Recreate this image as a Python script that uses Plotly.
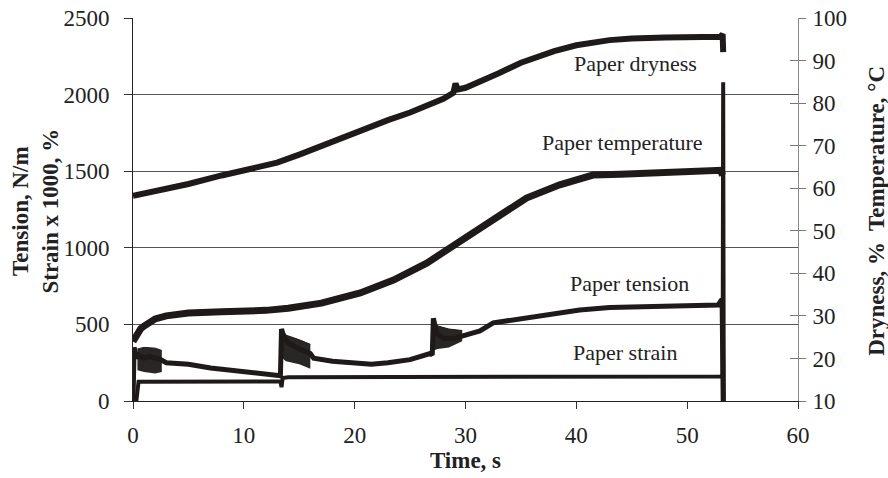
import plotly.graph_objects as go

# ---------------- data ----------------
# Paper dryness, % (right axis)
dry_t = [0, 2, 5, 8, 10, 13, 15, 18, 20, 23, 25, 28, 28.9, 29.1, 29.3, 30, 33, 35, 38, 40, 43, 45, 48, 50, 53, 53.2, 53.25]
dry_v = [58.2, 59.3, 61.0, 63.0, 64.2, 66.0, 67.9, 71.0, 73.2, 76.0, 77.8, 81.0, 82.4, 84.6, 83.2, 83.6, 87.0, 89.5, 92.2, 93.6, 94.8, 95.2, 95.4, 95.5, 95.6, 96.2, 92.0]

# Paper temperature, degC (right axis)
temp_t = [0, 0.3, 0.7, 1, 1.5, 2, 3, 5, 8, 10, 12, 14, 17, 20.5, 23.5, 26.5, 29.2, 32.5, 35.5, 38.5, 41.5, 44, 47, 50, 53, 53.2]
temp_v = [24.0, 25.5, 27.0, 27.6, 28.6, 29.3, 30.0, 30.7, 31.0, 31.0, 31.3, 31.8, 33.0, 35.4, 38.4, 42.4, 47.1, 52.5, 57.7, 60.8, 63.1, 63.3, 63.6, 63.8, 64.2, 63.0]

# Paper tension, N/m (left axis)
ten_t = [0, 0.1, 0.3, 0.5, 1, 1.5, 2, 2.5, 3, 5, 7, 9, 11, 13.3, 13.4, 13.6, 14, 15, 16, 16.3, 18, 20, 21.5, 23, 25, 26.8, 27.0, 27.1, 27.4, 28, 29, 30, 31.3, 32.5, 35.8, 38.5, 40.3, 43, 45, 49.4, 52.8, 53.15, 53.25]
ten_v = [0, 350, 280, 300, 280, 290, 280, 270, 250, 240, 215, 200, 180, 165, 470, 420, 380, 340, 310, 280, 260, 245, 240, 250, 270, 310, 300, 540, 440, 410, 410, 430, 457, 510, 548, 580, 594, 610, 614, 620, 627, 665, 0]

# noisy envelopes of the tension signal (left axis)
band1_t = [0.4, 1, 2, 2.6]
band1_hi = [340, 350, 345, 330]
band1_lo = [200, 190, 180, 190]
band2_t = [13.45, 13.8, 15, 16]
band2_hi = [470, 430, 400, 370]
band2_lo = [280, 260, 240, 210]
band3_t = [27.1, 27.5, 28.5, 29.7]
band3_hi = [530, 490, 470, 460]
band3_lo = [330, 340, 350, 390]

# Paper strain x 1000, % (left axis)
str_t = [0, 0.3, 0.5, 5, 10, 13.3, 13.4, 13.5, 14, 20, 27, 28, 40, 53, 53.2, 53.25, 53.3]
str_v = [0, 0, 125, 127, 128, 128, 90, 150, 155, 155, 155, 160, 160, 160, 165, 2080, 0]

x_ticks = [0, 10, 20, 30, 40, 50, 60]
left_ticks = [0, 500, 1000, 1500, 2000, 2500]
right_ticks = [10, 20, 30, 40, 50, 60, 70, 80, 90, 100]

labels = ["Paper dryness", "Paper temperature", "Paper tension", "Paper strain"]
label_x = [45.3, 44.2, 44.8, 44.4]
label_y = [2200, 1690, 770, 315]

left_title = "<b>Tension, N/m<br>Strain x 1000, %</b>"
right_title = "<b>Dryness, %  Temperature, °C</b>"

# ---------------- figure ----------------
SERIF = "Liberation Serif, Times New Roman, serif"
INK = "#1e1a1a"

fig = go.Figure()

def band(t, lo, hi):
    fig.add_trace(go.Scatter(x=t, y=lo, mode="lines", line=dict(width=0, color=INK),
                             showlegend=False, hoverinfo="skip", yaxis="y"))
    fig.add_trace(go.Scatter(x=t, y=hi, mode="lines", line=dict(width=1, color=INK),
                             fill="tonexty", fillcolor="rgba(30,26,26,0.95)",
                             showlegend=False, hoverinfo="skip", yaxis="y"))

band(band1_t, band1_lo, band1_hi)
band(band2_t, band2_lo, band2_hi)
band(band3_t, band3_lo, band3_hi)

fig.add_trace(go.Scatter(x=ten_t, y=ten_v, mode="lines", name="Paper tension",
                         line=dict(color=INK, width=5), yaxis="y"))
fig.add_trace(go.Scatter(x=str_t, y=str_v, mode="lines", name="Paper strain",
                         line=dict(color=INK, width=4), yaxis="y"))
fig.add_trace(go.Scatter(x=temp_t, y=temp_v, mode="lines", name="Paper temperature",
                         line=dict(color=INK, width=7), yaxis="y2"))
fig.add_trace(go.Scatter(x=dry_t, y=dry_v, mode="lines", name="Paper dryness",
                         line=dict(color=INK, width=6), yaxis="y3"))

for txt, xx, yy in zip(labels, label_x, label_y):
    fig.add_annotation(x=xx, y=yy, xref="x", yref="y", text=txt, showarrow=False,
                       font=dict(family=SERIF, size=22, color="#222"))

tickfont = dict(family=SERIF, size=23, color="#222")
titlefont = dict(family=SERIF, size=23, color="#222")

# axis titles as rotated annotations for exact placement
fig.add_annotation(x=-0.146, y=0.497, xref="paper", yref="paper", text=left_title,
                   textangle=-90, showarrow=False, xanchor="center", yanchor="middle",
                   font=titlefont)
fig.add_annotation(x=1.119, y=0.497, xref="paper", yref="paper", text=right_title,
                   textangle=-90, showarrow=False, xanchor="center", yanchor="middle",
                   font=titlefont)

fig.update_layout(
    width=888, height=478,
    margin=dict(l=133, r=90, t=18, b=77),
    paper_bgcolor="white", plot_bgcolor="white",
    showlegend=False,
    xaxis=dict(range=[0, 60], tickvals=x_ticks, ticks="outside", ticklen=7, tickcolor="#333",
               showline=True, linecolor="#222", linewidth=1, showgrid=False, zeroline=False,
               tickfont=tickfont, ticklabelstandoff=6, automargin=False,
               title=dict(text="<b>Time, s</b>", font=titlefont, standoff=2)),
    yaxis=dict(range=[0, 2500], tickvals=left_ticks, ticks="outside", ticklen=8, tickcolor="#333",
               showline=True, linecolor="#222", linewidth=1,
               showgrid=True, gridcolor="#555", gridwidth=1, zeroline=False,
               tickfont=tickfont, ticklabelstandoff=10, automargin=False),
    yaxis2=dict(range=[10, 100], tickvals=right_ticks, overlaying="y", side="right",
                ticks="outside", ticklen=7, tickcolor="#777",
                showline=True, linecolor="#888", linewidth=1, showgrid=False, zeroline=False,
                tickfont=tickfont, ticklabelstandoff=2, automargin=False),
    yaxis3=dict(range=[10, 100], tickvals=right_ticks, overlaying="y", side="right",
                ticks="inside", ticklen=8, tickcolor="#777", showticklabels=False,
                showline=False, showgrid=False, zeroline=False, automargin=False),
)

# remove the page's default body margin so the 888x478 figure fills the window exactly
fig.write_html("out.html", config={"displayModeBar": False},
               post_script="document.body.style.margin='0';document.body.style.overflow='hidden';")
